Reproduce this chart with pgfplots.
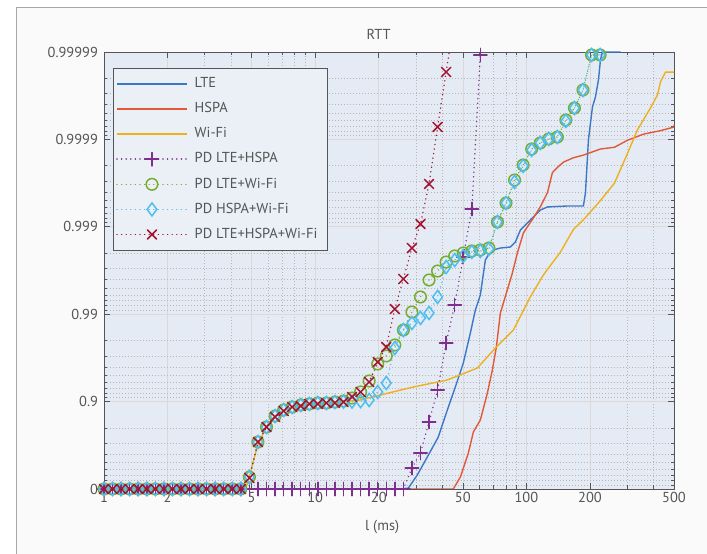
\documentclass[border=0pt]{standalone}
\usepackage{fontspec}
\setmainfont{PT Sans}
\usepackage{pgfplots}
\pgfplotsset{compat=1.18}
\definecolor{colLTE}{RGB}{61,120,198}
\definecolor{colHSPA}{RGB}{226,89,58}
\definecolor{colWIFI}{RGB}{237,177,32}
\definecolor{cpur}{RGB}{126,47,142}
\definecolor{cgrn}{RGB}{119,172,48}
\definecolor{ccyan}{RGB}{77,190,238}
\definecolor{cred}{RGB}{162,20,47}
\definecolor{axbg}{RGB}{228,235,244}
\definecolor{legbg}{RGB}{235,240,247}
\definecolor{outbg}{RGB}{250,250,250}
\definecolor{txt}{RGB}{85,85,85}
\definecolor{axcol}{RGB}{85,85,85}
\definecolor{gmaj}{RGB}{220,216,216}
\definecolor{gmin}{RGB}{189,181,181}
\newcommand{\tfont}{\fontsize{14.5}{17}\selectfont}
\begin{document}
\begin{tikzpicture}[x=1bp,y=1bp]
\useasboundingbox (0,0) rectangle (707,554);
\fill[white] (0,0) rectangle (707,554);
\fill[outbg] (16,0) rectangle (707,547);
\draw[gray!70, line width=0.8bp] (16,0) -- (16,547) -- (707,547);
\begin{axis}[
  at={(104bp,65bp)}, anchor=south west,
  scale only axis, width=570bp, height=437bp,
  xmode=log, xmin=1, xmax=500, ymin=0, ymax=5,
  axis line style={axcol, line width=0.8bp},
  tick style={axcol, line width=0.6bp},
  major tick length=6bp, minor tick length=3.5bp,
  tick align=inside,
  xtick={1,2,5,10,20,50,100,200,500},
  xticklabels={1,2,5,10,20,50,100,200,500},
  minor xtick={3,4,6,7,8,9,30,40,60,70,80,90,300,400},
  ytick={0,1,2,3,4,5},
  yticklabels={0,0.9,0.99,0.999,0.9999,0.99999},
  minor ytick={0.0458,0.0969,0.1549,0.2218,0.3010,0.3979,0.5229,0.6990,
    1.0458,1.0969,1.1549,1.2218,1.3010,1.3979,1.5229,1.6990,
    2.0458,2.0969,2.1549,2.2218,2.3010,2.3979,2.5229,2.6990,
    3.0458,3.0969,3.1549,3.2218,3.3010,3.3979,3.5229,3.6990,
    4.0458,4.0969,4.1549,4.2218,4.3010,4.3979,4.5229,4.6990},
  grid=both,
  major grid style={gmaj, line width=0.6bp},
  minor grid style={gmin, line width=0.6bp, dash pattern=on 0.6bp off 2.4bp},
  axis background/.style={fill=axbg},
  ticklabel style={font=\tfont, text=txt},
  yticklabel style={xshift=-2.5bp},
  /pgf/number format/assume math mode=true,
  title={RTT},
  title style={font=\tfont, text=txt, at={(0.482,1.027)}, anchor=center},
  xlabel={l (ms)},
  xlabel style={font=\tfont, text=txt, at={(0.488,-0.087)}, anchor=center},
  legend style={at={(0.0158,0.963)}, anchor=north west, draw=axcol,
    fill=legbg, font=\tfont, inner sep=3bp, row sep=0pt,
    nodes={inner ysep=5.3bp, inner xsep=7bp, text height=11bp, text depth=3.5bp, text=txt}},
  legend cell align=left,
  lineleg/.style={legend image code/.code={\draw[##1] (0bp,0bp) -- (70bp,0bp);}},
  markleg/.style={legend image code/.code={%
    \draw[##1, mark=none] (0bp,0bp) -- (70bp,0bp);
    \draw[##1, only marks] plot coordinates {(35bp,0bp)};}},
  pd/.style={line width=1.5bp, line cap=round, dash pattern=on 0.1bp off 4.5bp, markleg},
]
% LTE
\addplot[colLTE, line width=1.4bp, lineleg] coordinates {
(1,0)(25.27,0)(27.60,0.01)(30.44,0.16)(33.95,0.366)(38.28,0.595)(42.23,0.904)(46.08,1.167)(50.28,1.442)(54.28,1.785)(57.33,2.048)(60.53,2.22)(63.93,2.62)(66.05,2.677)(69.76,2.735)(75.31,2.757)(83.99,2.769)(88.70,2.826)(93.67,2.963)(102.2,3.055)(107.9,3.112)(116.5,3.192)(125.8,3.227)(156.4,3.238)(186.2,3.238)(190.4,3.387)(196.7,3.993)(205.5,4.371)(212.3,4.485)(219.4,4.680)(224.2,4.908)(229.2,5.0)(279.0,5.0)
};
\addlegendentry{LTE}
% HSPA
\addplot[colHSPA, line width=1.4bp, lineleg] coordinates {
(1,0)(45.08,0)(48.67,0.137)(53.11,0.412)(56.09,0.652)(60.53,0.789)(65.36,1.098)(69.01,1.362)(72.09,1.625)(75.31,2.014)(81.28,2.28)(85.82,2.47)(90.64,2.70)(96.78,2.93)(101.1,3.00)(107.9,3.10)(116.5,3.23)(125.8,3.39)(132.8,3.62)(140.3,3.68)(149.8,3.74)(167.0,3.79)(186.2,3.82)(224.2,3.89)(261.3,3.91)(301.1,3.99)(358.5,4.06)(431.7,4.10)(497.5,4.14)(500,4.16)
};
\addlegendentry{HSPA}
% Wi-Fi
\addplot[colWIFI, line width=1.4bp, lineleg] coordinates {
(1,0)(4.5,0)(4.762,0.05)(5.311,0.48)(5.859,0.71)(6.462,0.835)(7.053,0.90)(7.780,0.94)(8.490,0.96)(10.22,0.98)(13.14,1.0)(16.34,1.018)(20.33,1.075)(29.14,1.167)(42.23,1.247)(58.61,1.384)(71.31,1.613)(86.79,1.819)(104.5,2.2)(120.4,2.45)(144.9,2.71)(167.0,2.97)(186.2,3.08)(224.2,3.30)(261.3,3.50)(301.1,3.84)(335.8,4.11)(387.0,4.36)(417.8,4.51)(431.7,4.66)(455.9,4.77)(500,4.77)
};
\addlegendentry{Wi-Fi}
% PD LTE+HSPA
\addplot[cpur, pd, mark=+, mark size=6.7bp, mark options={solid, line width=1.5bp}] coordinates {
(1,0)(1.0978,0)(1.2050,0)(1.3229,0)(1.4521,0)(1.5941,0)(1.7498,0)(1.9210,0)(2.1086,0)(2.3148,0)(2.5410,0)(2.7895,0)(3.0620,0)(3.3615,0)(3.6897,0)(4.0504,0)(4.4463,0)(4.8809,0)(5.3580,0)(5.8818,0)(6.4565,0)(7.0876,0)(7.7804,0)(8.5409,0)(9.3756,0)(10.292,0)(11.298,0)(12.402,0)(13.614,0)(14.945,0)(16.406,0)(18.009,0)(19.770,0)(21.702,0)(23.823,0)(26.152,0)(28.708,0.240)(31.514,0.412)(34.594,0.767)(37.977,1.133)(41.687,1.670)(45.762,2.105)(50.234,2.654)(55.147,3.204)(60.534,4.966)
};
\addlegendentry{PD LTE+HSPA}
% PD LTE+Wi-Fi
\addplot[cgrn, pd, mark=o, mark size=5.8bp, mark options={solid, line width=1.5bp}] coordinates {
(1,0)(1.0978,0)(1.2050,0)(1.3229,0)(1.4521,0)(1.5941,0)(1.7498,0)(1.9210,0)(2.1086,0)(2.3148,0)(2.5410,0)(2.7895,0)(3.0620,0)(3.3615,0)(3.6897,0)(4.0504,0)(4.4463,0)(4.8809,0.137)(5.3580,0.538)(5.8818,0.709)(6.4565,0.835)(7.0876,0.904)(7.7804,0.938)(8.5409,0.961)(9.3756,0.973)(10.292,0.984)(11.298,0.984)(12.402,0.995)(13.614,1.007)(14.945,1.041)(16.406,1.110)(18.009,1.236)(19.770,1.430)(21.702,1.522)(23.823,1.648)(26.152,1.819)(28.708,2.025)(31.514,2.197)(34.594,2.391)(37.977,2.494)(41.687,2.597)(45.762,2.666)(50.234,2.700)(55.147,2.723)(60.534,2.735)(66.452,2.757)(72.946,3.055)(80.076,3.272)(87.902,3.535)(96.494,3.707)(105.93,3.890)(116.28,3.959)(127.64,4.005)(140.12,4.027)(153.82,4.222)(168.85,4.359)(185.35,4.565)(203.47,4.966)(223.36,4.966)
};
\addlegendentry{PD LTE+Wi-Fi}
% PD HSPA+Wi-Fi
\addplot[ccyan, pd, mark=diamond, mark size=6.5bp, mark options={solid, line width=1.5bp}] coordinates {
(1,0)(1.0978,0)(1.2050,0)(1.3229,0)(1.4521,0)(1.5941,0)(1.7498,0)(1.9210,0)(2.1086,0)(2.3148,0)(2.5410,0)(2.7895,0)(3.0620,0)(3.3615,0)(3.6897,0)(4.0504,0)(4.4463,0)(4.8809,0.137)(5.3580,0.538)(5.8818,0.709)(6.4565,0.835)(7.0876,0.904)(7.7804,0.938)(8.5409,0.961)(9.3756,0.973)(10.292,0.984)(11.298,0.984)(12.402,0.995)(13.614,1.0)(14.945,1.0)(16.406,1.005)(18.009,1.018)(19.770,1.110)(21.702,1.213)(23.823,1.613)(26.152,1.819)(28.708,1.899)(31.514,1.957)(34.594,2.014)(37.977,2.197)(41.687,2.540)(45.762,2.620)(50.234,2.666)(55.147,2.712)(60.534,2.723)(66.452,2.746)(72.946,3.055)(80.076,3.272)(87.902,3.513)(96.494,3.696)(105.93,3.879)(116.28,3.959)(127.64,4.005)(140.12,4.027)(153.82,4.211)(168.85,4.359)(185.35,4.565)(203.47,4.966)(223.36,4.966)
};
\addlegendentry{PD HSPA+Wi-Fi}
% PD LTE+HSPA+Wi-Fi
\addplot[cred, pd, mark=x, mark size=6.6bp, mark options={solid, line width=1.5bp}] coordinates {
(1,0)(1.0978,0)(1.2050,0)(1.3229,0)(1.4521,0)(1.5941,0)(1.7498,0)(1.9210,0)(2.1086,0)(2.3148,0)(2.5410,0)(2.7895,0)(3.0620,0)(3.3615,0)(3.6897,0)(4.0504,0)(4.4463,0)(4.8809,0.126)(5.3580,0.538)(5.8818,0.709)(6.4565,0.824)(7.0876,0.892)(7.7804,0.938)(8.5409,0.950)(9.3756,0.973)(10.292,0.973)(11.298,0.984)(12.402,0.984)(13.614,0.995)(14.945,1.053)(16.406,1.110)(18.009,1.224)(19.770,1.453)(21.702,1.625)(23.823,2.059)(26.152,2.403)(28.708,2.757)(31.514,3.032)(34.594,3.490)(37.977,4.142)(41.687,4.771)(45.762,5.4)
};
\addlegendentry{PD LTE+HSPA+Wi-Fi}
\end{axis}
\end{tikzpicture}
\end{document}
